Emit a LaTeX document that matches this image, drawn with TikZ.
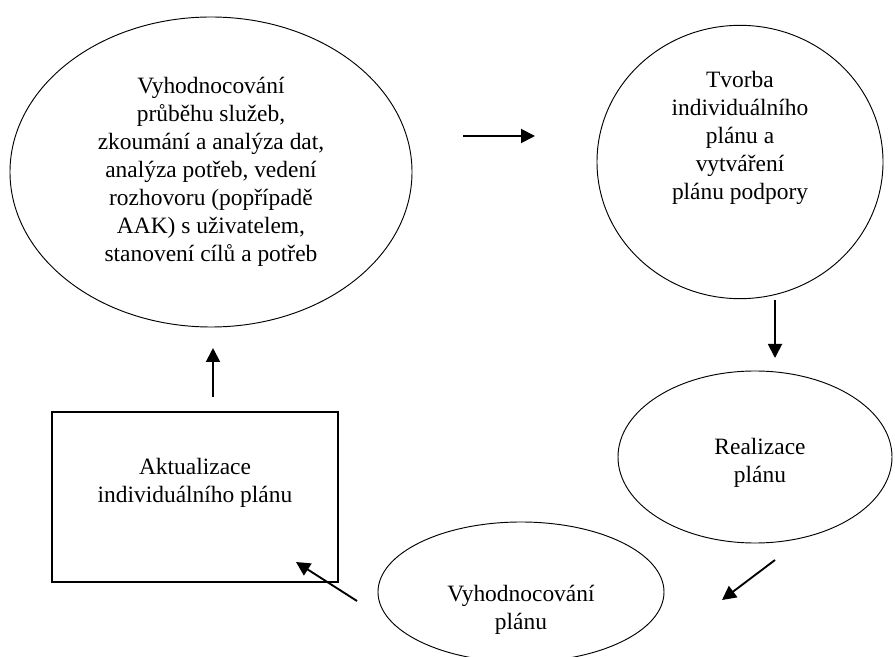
\documentclass[tikz,border=0pt]{standalone}
\usepackage{fontspec}
\setmainfont{Liberation Serif}
\usetikzlibrary{arrows.meta}
\usetikzlibrary{shapes.geometric}
\tikzset{
  elipsa/.style 2 args={draw, ellipse, line width=0.8pt, minimum width=#1, minimum height=#2, inner sep=0pt, align=center},
  krabice/.style={draw, rectangle, line width=1.1pt, minimum width=8.58cm, minimum height=5.1cm, align=center},
  popis/.style={align=center},
  seta/.style={-{Triangle[length=0.42cm, width=0.42cm]}, line width=1.6pt},
}

\begin{document}
\begin{tikzpicture}[x=0.03cm, y=-0.03cm, font=\fontsize{20}{23.8}\selectfont]
  \useasboundingbox (0,0) rectangle (895,657);
  \node[elipsa={12.06cm}{9.3cm}] (hodnoceni) at (211,172) {Vyhodnocování\\průběhu služeb,\\zkoumání a analýza dat,\\analýza potřeb, vedení\\rozhovoru (popřípadě\\AAK) s uživatelem,\\stanovení cílů a potřeb};
  \node[elipsa={8.58cm}{8.2cm}] (tvorba) at (740,162) {};
  \node[popis] (tvorbatext) at (740,138) {Tvorba\\individuálního\\plánu a\\vytváření\\plánu podpory};
  \node[elipsa={8.22cm}{5.16cm}] (realizace) at (755,457) {};
  \node[popis] (realizacetext) at (760,463) {Realizace\\plánu};
  \node[elipsa={8.58cm}{4.2cm}] (vyhodnoceni) at (521,592) {};
  \node[popis] (vyhodnocenitext) at (521,610) {Vyhodnocování\\plánu};
  \node[krabice] (aktualizace) at (195,497) {};
  \node[popis] (aktualizacetext) at (195,483) {Aktualizace\\individuálního plánu};
  % sipky mezi kroky
  \coordinate (s1a) at (463,136); \coordinate (s1b) at (535,136);
  \coordinate (s2a) at (775,300); \coordinate (s2b) at (775,358);
  \coordinate (s3a) at (775,560); \coordinate (s3b) at (722,600);
  \coordinate (s4a) at (357,601); \coordinate (s4b) at (296,562);
  \coordinate (s5a) at (213,397); \coordinate (s5b) at (213,348);
  \draw[seta] (s1a) -- (s1b); \draw[seta] (s2a) -- (s2b); \draw[seta] (s3a) -- (s3b);
  \draw[seta] (s4a) -- (s4b); \draw[seta] (s5a) -- (s5b);
\end{tikzpicture}
\end{document}
